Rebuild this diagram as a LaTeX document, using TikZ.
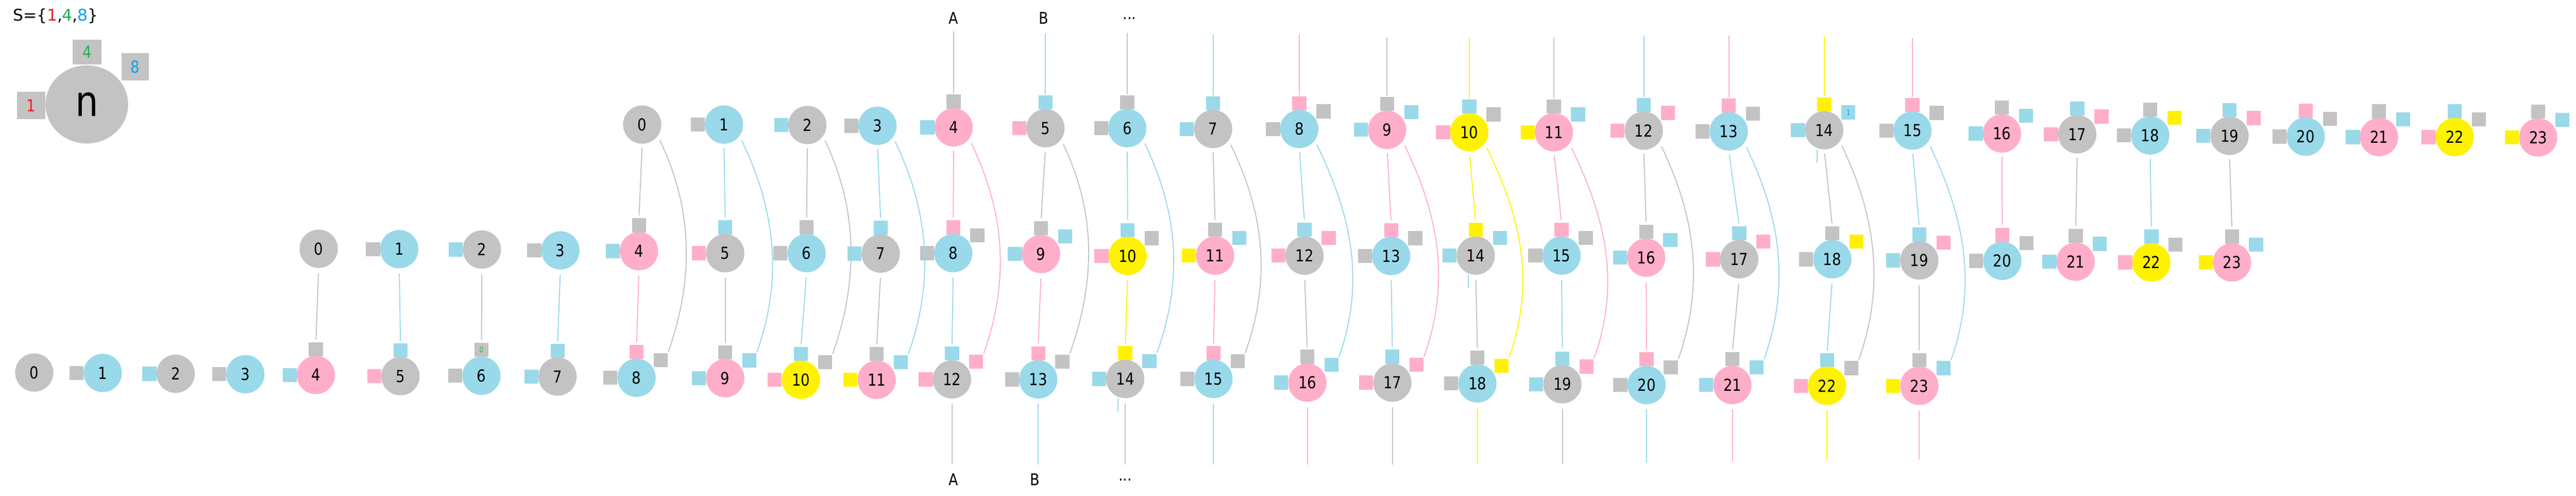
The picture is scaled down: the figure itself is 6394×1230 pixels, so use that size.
\documentclass[tikz,border=0pt]{standalone}
\usepackage{fontspec}
\setmainfont{DejaVu Sans}
\newfontfamily\rsNumFam[FakeStretch=0.86]{DejaVu Sans}
\usetikzlibrary{shapes.geometric}
\definecolor{gA}{HTML}{C3C3C3}
\definecolor{gB}{HTML}{99D9EA}
\definecolor{gC}{HTML}{FFAEC9}
\definecolor{gD}{HTML}{FFF200}
\definecolor{cred}{HTML}{ED1C24}
\definecolor{cgreen}{HTML}{22B14C}
\definecolor{cblue}{HTML}{00A2E8}
\newcommand\rsNum{\rsNumFam\fontsize{41pt}{45pt}\selectfont}
\newcommand\rsBig{\rsNumFam\fontsize{105pt}{110pt}\selectfont}
\newcommand\rsTiny{\rsNumFam\fontsize{18pt}{20pt}\selectfont}
\newcommand\rsTitle{\fontsize{40pt}{44pt}\selectfont}
\newcommand\rsLbl{\rsNumFam\fontsize{40pt}{44pt}\selectfont}
% Grundy colour of n (period 12)
\newcommand\rsG[1]{\ifcase\numexpr#1\relax gA\or gB\or gA\or gB\or gC\or gA\or gB\or gA\or gB\or gC\or gD\or gC\or gA\or gB\or gA\or gB\or gC\or gA\or gB\or gA\or gB\or gC\or gD\or gC\fi}
\def\toplist{0/1594/309,1/1797/309,2/2004/310,3/2178/312,4/2367/316,5/2595/318,6/2798/318,7/3011/320,8/3225/320,9/3443/322,10/3647/328,11/3857/328,12/4080/324,13/4291/326,14/4528/323,15/4747/324,16/4969/331,17/5156/333,18/5337/336,19/5534/337,20/5723/339,21/5905/340,22/6093/340,23/6300/341}
\def\midlist{0/791/617,1/991/618,2/1196/619,3/1391/621,4/1586/623,5/1800/628,6/2002/628,7/2186/629,8/2366/628,9/2584/630,10/2799/635,11/3016/634,12/3238/634,13/3453/635,14/3663/634,15/3876/634,16/4086/639,17/4317/643,18/4548/643,19/4764/646,20/4970/647,21/5152/649,22/5340/651,23/5540/651}
\def\botlist{0/85/924,1/255/925,2/436/927,3/609/928,4/784/930,5/994/933,6/1195/932,7/1384/934,8/1580/937,9/1800/938,10/1988/942,11/2176/942,12/2363/941,13/2577/941,14/2793/940,15/3012/940,16/3245/949,17/3456/949,18/3667/951,19/3878/953,20/4087/955,21/4300/955,22/4535/957,23/4764/957}
\newcommand\rsRow[2]{%
  \foreach \n/\x/\y in #2 {%
    \ifnum\n>0
      \edef\rsCL{\rsG{\n-1}}%
      \node[port, fill=\rsCL] (#1L\n) at (\x-65,\y) {};
    \fi
    \ifnum\n>3
      \edef\rsCT{\rsG{\n-4}}%
      \node[port, fill=\rsCT] (#1T\n) at (\x,\y-64) {};
    \fi
    \ifnum\n>7
      \edef\rsCR{\rsG{\n-8}}%
      \node[port, fill=\rsCR] (#1R\n) at (\x+60,\y-44) {};
    \fi
    \edef\rsCN{\rsG{\n}}%
    \node[nd, fill=\rsCN] (#1\n) at (\x,\y) {\n};
  }}
\begin{document}
\begin{tikzpicture}[x=1pt,y=-1pt,
  nd/.style={circle, minimum size=95pt, inner sep=0pt, font=\rsNum},
  port/.style={rectangle, minimum size=35pt, inner sep=0pt},
  ln/.style={line width=2.5pt},
  lbl/.style={font=\rsLbl, inner sep=0pt}]
\useasboundingbox (0,0) rectangle (6394,1230);
% legend
\node[font=\rsTitle, anchor=base west, inner sep=0pt] (title) at (32,52)
  {S=\{{\color{cred}1},{\color{cgreen}4},{\color{cblue}8}\}};
\node[rectangle, inner sep=0pt, minimum width=72pt, minimum height=62pt, fill=gA, text=cgreen, font=\rsNum] (s4) at (216,129) {4};
\node[rectangle, inner sep=0pt, minimum width=68pt, minimum height=68pt, fill=gA, text=cblue, font=\rsNum] (s8) at (336,166) {8};
\node[rectangle, inner sep=0pt, minimum width=70pt, minimum height=68pt, fill=gA, text=cred, font=\rsNum] (s1) at (77,262) {1};
\node[ellipse, inner sep=0pt, minimum width=205pt, minimum height=194pt, fill=gA, font=\rsBig] (nn) at (215.5,259) {n};
% rows of nodes with their port squares
\rsRow{t}{\toplist}
\rsRow{m}{\midlist}
\rsRow{b}{\botlist}
% small texts inside two ports
\node[font=\rsTiny, text=cblue, inner sep=0pt] (x1) at (tR14) {1};
\node[font=\rsTiny, text=cgreen, inner sep=0pt] (x0) at (bT6) {0};
% straight links
\foreach \k in {0,...,19} {
  \pgfmathtruncatemacro\j{\k+4}
  \edef\rsC{\rsG{\k}}
  \draw[ln, draw=\rsC, shorten <=10pt, shorten >=7pt] (t\k.south) -- (mT\j.north);
  \draw[ln, draw=\rsC, shorten <=13pt, shorten >=6pt] (m\k.south) -- (bT\j.north);
}
% curved links top k -> bottom k+8
\foreach \k in {0,...,15} {
  \pgfmathtruncatemacro\j{\k+8}
  \edef\rsC{\rsG{\k}}
  \draw[ln, draw=\rsC, shorten <=12pt, shorten >=3pt] (t\k.-36) .. controls +(75,156) and +(75,-210) .. (bR\j.north east);
}
% wrap-around lines above the top row
\foreach \k/\x/\y/\lc in {4/2367/78/gA,5/2595/82/gB,6/2798/82/gA,7/3011/87/gB,8/3225/86/gC,9/3443/92/gA,10/3647/92/gD,11/3857/93/gA,12/4080/88/gB,13/4291/88/gC,14/4528/89/gD,15/4747/95/gC} {
  \coordinate (u\k) at (\x,\y);
  \draw[ln, draw=\lc, shorten >=2pt] (u\k) -- (tT\k.north);
}
% wrap-around lines below the bottom row
\foreach \k/\x/\y/\lc in {12/2363/1152/gA,13/2577/1152/gB,14/2793/1152/gA,15/3012/1152/gB,16/3245/1152/gC,17/3456/1152/gA,18/3667/1152/gD,19/3878/1151/gA,20/4087/1147/gB,21/4300/1145/gC,22/4535/1141/gD,23/4764/1139/gC} {
  \coordinate (d\k) at (\x,\y);
  \draw[ln, draw=\lc, shorten <=13pt] (b\k.south) -- (d\k);
}
% stray short marks beside the 14s
\foreach \nm in {t14,m14,b14}
  \draw[ln, draw=gB] ([shift={(-18,48)}]\nm.center) -- ([shift={(-18,81)}]\nm.center);
% labels
\node[lbl, anchor=base] (la1) at (2367,59) {A};
\node[lbl, anchor=base] (lb1) at (2591,59) {B};
\node[lbl, anchor=base] (lc1) at (2804,59) {···};
\node[lbl, anchor=base] (la2) at (2367,1204) {A};
\node[lbl, anchor=base] (lb2) at (2569,1204) {B};
\node[lbl, anchor=base] (lc2) at (2793,1204) {···};
\end{tikzpicture}
\end{document}
